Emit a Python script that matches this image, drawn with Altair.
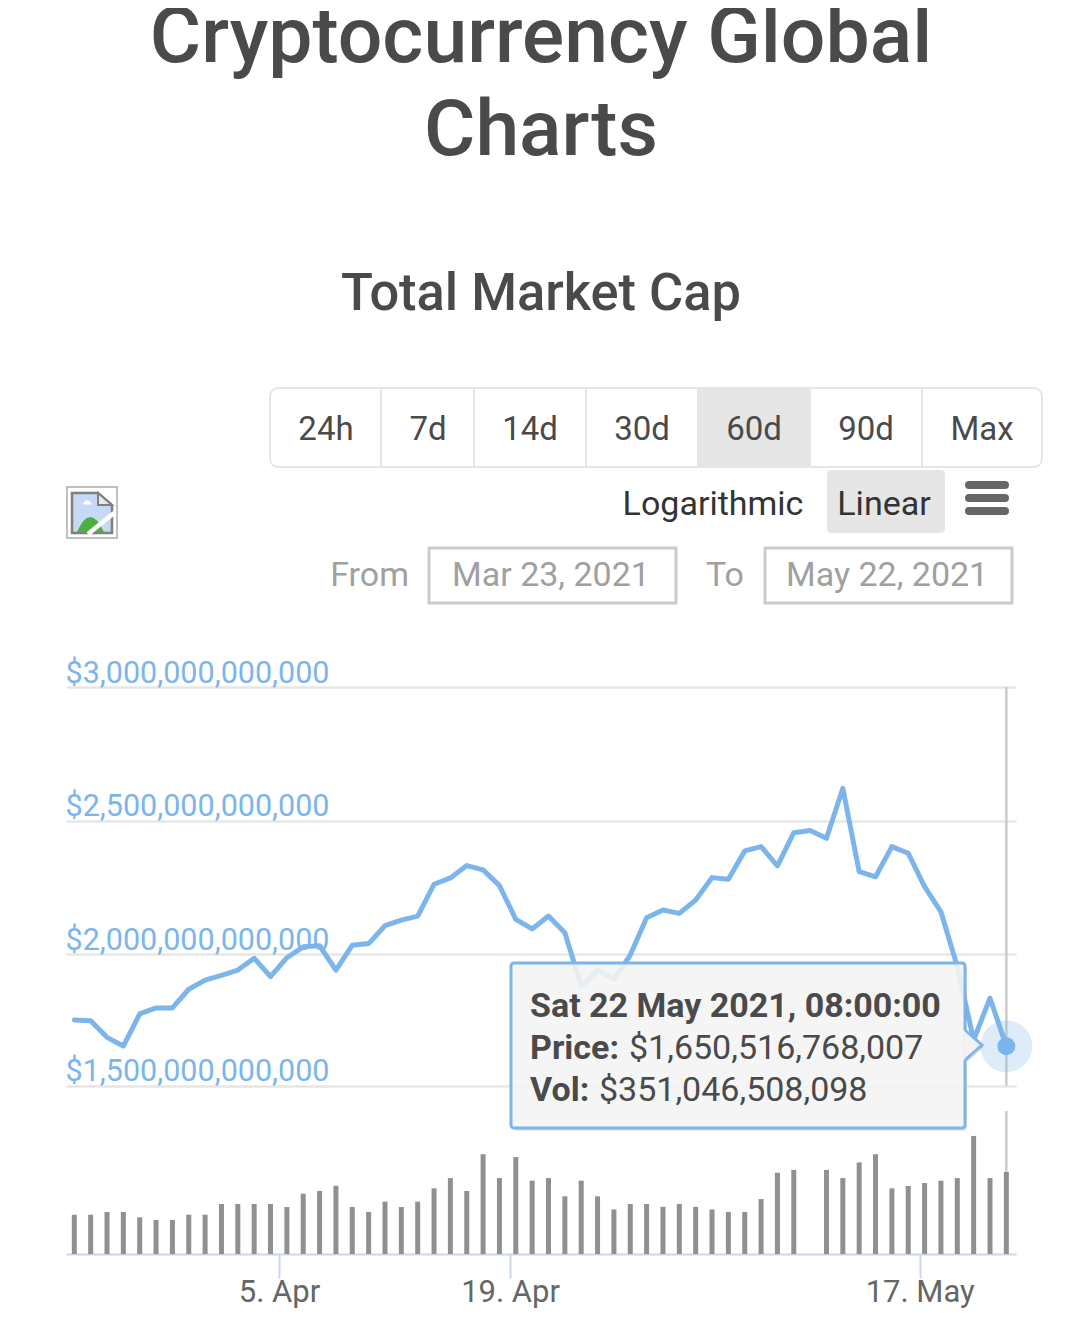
import altair as alt
import pandas as pd

price_b = [1750,1747,1684,1651,1773,1796,1796,1867,1902,1920,1940,1985,1915,1987,2028,2032,1940,2034,2040,2107,
           2128,2143,2262,2286,2332,2316,2257,2131,2095,2143,2081,1879,1940,1905,1997,2137,2166,2153,2203,2287,
           2281,2387,2403,2331,2455,2463,2434,2621,2309,2290,2403,2378,2253,2159,1953,1674,1833,1650.5]
volume_b = [168,168,180,180,157,146,146,168,168,214,214,214,214,201,258,270,292,201,180,224,
            201,224,281,325,270,427,325,415,314,325,247,314,247,191,214,214,202,214,202,191,
            180,180,235,348,360,None,360,325,392,427,281,291,304,314,325,505,325,351]
price_ticks = [1500,2000,2500,3000]
x_tick_pos = [12.52,26.65,51.7]
x_tick_labels = ["5. Apr","19. Apr","17. May"]
ranges = ["24h","7d","14d","30d","60d","90d","Max"]

FONT = "Roboto"
BLUE = "#7cb5ec"
TXT = "#4a4a4a"
X0, Y0 = 66, 687
W, H = 950, 567
one = pd.DataFrame({"k":[0]})
df = pd.DataFrame({"i":range(len(price_b)),"price":price_b,"vol":volume_b})
last = df[df.i==len(price_b)-1]

def vx(x): return alt.value(x-X0)
def vy(y): return alt.value(y-Y0)

def rect(x1,y1,x2,y2,**kw):
    return alt.Chart(one).mark_rect(**kw).encode(x=vx(x1),x2=vx(x2),y=vy(y1),y2=vy(y2))
def hline(x1,x2,y,**kw):
    return alt.Chart(one).mark_rule(**kw).encode(x=vx(x1),x2=vx(x2),y=vy(y))
def vline(x,y1,y2,**kw):
    return alt.Chart(one).mark_rule(**kw).encode(x=vx(x),y=vy(y1),y2=vy(y2))
def text(s,x,y,size,color=TXT,align="center",weight=400):
    return alt.Chart(one).mark_text(text=s,font=FONT,fontSize=size,color=color,align=align,baseline="alphabetic",fontWeight=weight).encode(x=vx(x),y=vy(y))
def shape(path,x,y,r,opacity=1,**kw):
    return alt.Chart(one).mark_point(shape=path,filled=True,size=(2*r)**2,opacity=opacity,**kw).encode(x=vx(x),y=vy(y))

xs = alt.Scale(domain=[-0.5076,57.59],nice=False,zero=False,padding=0)
y_price = alt.Scale(domain=price_ticks,range=[398.7,267.3,133.7,0],nice=False,zero=False)
y_vol = alt.Scale(domain=[0,1000],range=[H,H-233.6],nice=False)

x_expr = " : ".join(f"datum.value < {p+1} ? '{l}'" for p,l in zip(x_tick_pos,x_tick_labels)) + " : ''"

x_axis = alt.Axis(values=x_tick_pos,labelExpr=x_expr,title=None,grid=False,domainColor="#ccd6eb",domainWidth=2,
                  tickColor="#ccd6eb",tickWidth=2,tickSize=24,labelFont=FONT,labelFontSize=31,labelColor="#666666",
                  labelPadding=-1,labelOverlap=False,labelFlush=False,labelBound=False)
y_axis = alt.Axis(values=price_ticks,labelExpr="'$' + format(datum.value*1e9, ',.0f')",title=None,domain=False,ticks=False,tickSize=0,
                  grid=True,gridColor="#e6e6e6",gridWidth=2.5,labelFont=FONT,labelFontSize=30.5,labelColor=BLUE,labelLimit=600,
                  labelAlign="left",labelBaseline="alphabetic",labelPadding=1,labelOffset=-5,labelOverlap=False,labelFlush=False,labelBound=False)
X = alt.X("i:Q",scale=xs,axis=x_axis)

bars = alt.Chart(df[df.vol.notna()]).mark_bar(size=5,color="#909090").encode(
    x=X, y=alt.Y("vol:Q",scale=y_vol,axis=None))
line = alt.Chart(df).mark_line(color=BLUE,strokeWidth=5,strokeJoin="round",strokeCap="round").encode(
    x=X, y=alt.Y("price:Q",scale=y_price,axis=y_axis))
cross1 = alt.Chart(last).mark_rule(color="#cccccc",strokeWidth=2.5).encode(x=X,y=vy(687),y2=vy(1086))
cross2 = alt.Chart(last).mark_rule(color="#cccccc",strokeWidth=2.5).encode(x=X,y=vy(1111),y2=vy(1172))
halo = alt.Chart(last).mark_point(filled=True,color=BLUE,opacity=0.25,size=2704,strokeWidth=0).encode(
    x=X,y=alt.Y("price:Q",scale=y_price,axis=None))
dot = alt.Chart(last).mark_point(filled=True,color=BLUE,opacity=1,size=324,strokeWidth=0).encode(
    x=X,y=alt.Y("price:Q",scale=y_price,axis=None))

layers = [cross1,cross2,bars,line,halo,dot]

# tooltip
layers.append(rect(513,965,967,1131,fill="#000000",opacity=0.10,cornerRadius=4))
layers.append(shape("M 0 -1 L 1.13 0 L 0 1 Z",967,1047,15,opacity=0.12,fill="#000000",strokeWidth=0))
layers.append(rect(511,963,965,1128,fill="#f7f7f7",fillOpacity=0.88,stroke=BLUE,strokeWidth=3,cornerRadius=3))
layers.append(shape("M -0.12 -1 L 0 -1 L 1.13 0 L 0 1 L -0.12 1 Z",965,1045,15,fill="#f3f3f3",strokeWidth=0))
layers.append(shape("M 0 -1 L 1.13 0 L 0 1",965,1045,15,fillOpacity=0,fill="#f3f3f3",stroke=BLUE,strokeWidth=3))
layers.append(text("Sat 22 May 2021, 08:00:00",530,1017,34,align="left",weight=700))
layers.append(text("Price:",530,1059,34,align="left",weight=700))
layers.append(text("$1,650,516,768,007",629,1059,34,align="left"))
layers.append(text("Vol:",530,1101,34,align="left",weight=700))
layers.append(text("$351,046,508,098",599,1101,34,align="left"))

# page header
layers.append(text("Cryptocurrency Global",541,62,78.7,weight=500))
layers.append(text("Charts",541,155,78.7,weight=500))
layers.append(text("Total Market Cap",541,310,52.4,weight=500))

# range buttons
layers.append(rect(698,389,810,466,fill="#e6e6e6"))
layers.append(rect(270,388,1042,467,stroke="#e6e6e6",strokeWidth=2,fill="#ffffff",fillOpacity=0,cornerRadius=8))
for dx in [381,474,586,698,810,922]:
    layers.append(vline(dx,388,467,color="#e6e6e6",strokeWidth=2))
for lab,cx in zip(ranges,[326,428,530,642,754,866,982]):
    layers.append(text(lab,cx,440,33))

# scale switch
layers.append(text("Logarithmic",713,515,34,color="#333333"))
layers.append(rect(827,470,945,533,fill="#e6e6e6",cornerRadius=4))
layers.append(text("Linear",884,515,34,color="#333333"))
for hy in [485,498,511]:
    layers.append(hline(969,1005,hy,color="#666666",strokeWidth=8,strokeCap="round"))

# date range
layers.append(text("From",409,586,34,color="#a0a0a0",align="right"))
layers.append(rect(429,548,676,603,stroke="#cccccc",strokeWidth=3,fill="#ffffff"))
layers.append(text("Mar 23, 2021",452,586,34,color="#a0a0a0",align="left"))
layers.append(text("To",744,586,34,color="#a0a0a0",align="right"))
layers.append(rect(765,548,1012,603,stroke="#cccccc",strokeWidth=3,fill="#ffffff"))
layers.append(text("May 22, 2021",786,586,34,color="#a0a0a0",align="left"))

# broken image icon
layers.append(rect(67,487,117,538,stroke="#c0c0c0",strokeWidth=2,fill="#ffffff"))
layers.append(shape("M -1 -1 L 0.3 -1 L 1 -0.4 L 1 1 L -1 1 Z",92,513,20,fill="#c6d9f5",stroke="#808080",strokeWidth=2.5))
layers.append(shape("M 0.3 -1 L 1 -0.4 L 0.3 -0.4 Z",92,513,20,fill="#e8e8e8",stroke="#808080",strokeWidth=2))
layers.append(shape("M -0.75 0.95 Q -0.1 -0.55 0.6 0.95 Z",92,513,20,fill="#4caf3f",strokeWidth=0))
layers.append(shape("M -0.5 -0.42 L 0 -0.42 L -0.1 -0.6 L -0.3 -0.65 Z",92,513,20,fill="#ffffff",strokeWidth=0))
layers.append(alt.Chart(one).mark_rule(color="#ffffff",strokeWidth=4.5).encode(x=vx(88),x2=vx(114),y=vy(534),y2=vy(513)))

chart = alt.layer(*layers).resolve_scale(y="independent").properties(
    width=W,height=H,
    padding={"left":58,"top":679,"right":56,"bottom":60},
    autosize=alt.AutoSizeParams(type="none"),
    background="#ffffff",
).configure_view(strokeWidth=0)

chart.save("out.html", embed_options={"renderer": "svg", "actions": False})
